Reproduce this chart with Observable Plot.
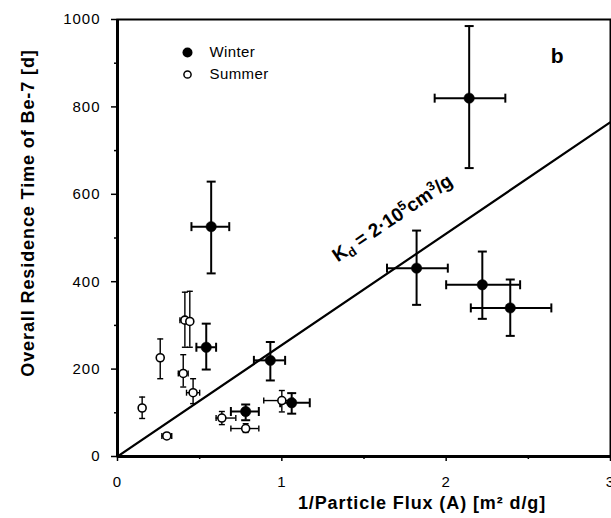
<!DOCTYPE html>
<html>
<head>
<meta charset="utf-8">
<script src="https://cdn.jsdelivr.net/npm/d3@7"></script>
<script src="https://cdn.jsdelivr.net/npm/@observablehq/plot@0.6"></script>
<style>
  body { margin: 0; background: #fff; }
  #chart svg { display: block; }
</style>
</head>
<body>
<div id="chart"></div>
<script>
// Winter campaigns: 1/particle flux (m² d/g) vs. overall Be-7 residence time (d)
const winterX    = [2.14, 0.57, 1.82, 2.22, 2.39, 0.54, 0.93, 0.78, 1.06];
const winterY    = [820,  526,  431,  393,  340,  250,  220,  103,  123];
const winterXlo  = [1.93, 0.45, 1.64, 2.00, 2.15, 0.48, 0.83, 0.69, 0.99];
const winterXhi  = [2.36, 0.68, 2.01, 2.45, 2.64, 0.60, 1.02, 0.86, 1.17];
const winterYlo  = [660,  419,  347,  315,  276,  199,  174,  83,   98];
const winterYhi  = [985,  629,  517,  469,  405,  304,  262,  119,  145];

// Summer campaigns
const summerX    = [0.15, 0.26, 0.41, 0.44, 0.40, 0.46, 0.30, 0.635, 0.78, 1.00];
const summerY    = [111,  226,  312,  309,  190,  146,  47,   88,    64,   128];
const summerXlo  = [null, null, 0.38, null, 0.37, 0.42, 0.27, 0.60,  0.69, 0.89];
const summerXhi  = [null, null, 0.44, null, 0.43, 0.50, 0.33, 0.72,  0.86, 1.07];
const summerYlo  = [87,   178,  250,  250,  159,  121,  42,   73,    55,   102];
const summerYhi  = [136,  269,  376,  378,  233,  178,  52,   103,   75,   151];

// Distribution-coefficient line, Kd = 2·10^5 cm³/g
const fitX = [0, 3];
const fitSlope = 255;
const kdText = "Kd = 2·10⁵cm³/g";
const kdAnchor = {x: 1.34, y: 444};

const xTicks = [0, 1, 2, 3];
const xMinor = [0.5, 1.5, 2.5];
const yTicks = [0, 200, 400, 600, 800, 1000];
const yMinor = [100, 300, 500, 700, 900];

const seasons = ["Winter", "Summer"];
const xTitle = "1/Particle Flux (A) [m² d/g]";
const yTitle = "Overall Residence Time of Be-7 [d]";
const panelTag = "b";

function rows(xs, ys, xlo, xhi, ylo, yhi) {
  return xs.map((x, i) => ({x, y: ys[i], xlo: xlo[i], xhi: xhi[i], ylo: ylo[i], yhi: yhi[i]}));
}
const winter = rows(winterX, winterY, winterXlo, winterXhi, winterYlo, winterYhi);
const summer = rows(summerX, summerY, summerXlo, summerXhi, summerYlo, summerYhi);
const fit = fitX.map(x => ({x, y: x * fitSlope}));

// short line symbols used as error-bar caps
const capH = {draw(ctx, size) { const r = Math.sqrt(size / Math.PI); ctx.moveTo(-r, 0); ctx.lineTo(r, 0); }};
const capV = {draw(ctx, size) { const r = Math.sqrt(size / Math.PI); ctx.moveTo(0, -r); ctx.lineTo(0, r); }};

function errorMarks(data, w, cap) {
  const hx = data.filter(d => d.xlo != null);
  const vCaps = data.flatMap(d => [{x: d.x, y: d.ylo}, {x: d.x, y: d.yhi}]);
  const hCaps = hx.flatMap(d => [{x: d.xlo, y: d.y}, {x: d.xhi, y: d.y}]);
  return [
    Plot.ruleX(data, {x: "x", y1: "ylo", y2: "yhi", stroke: "black", strokeWidth: w}),
    Plot.ruleY(hx, {y: "y", x1: "xlo", x2: "xhi", stroke: "black", strokeWidth: w}),
    Plot.dot(vCaps, {x: "x", y: "y", symbol: capH, r: cap, fill: "none", stroke: "black", strokeWidth: w}),
    Plot.dot(hCaps, {x: "x", y: "y", symbol: capV, r: cap, fill: "none", stroke: "black", strokeWidth: w})
  ];
}

const font = "'Liberation Sans', Arial, Helvetica, sans-serif";
const fmt = d => String(d);

const plot = Plot.plot({
  width: 611,
  height: 518,
  marginLeft: 117,
  marginRight: 1,
  marginTop: 19,
  marginBottom: 62,
  style: {fontFamily: font, fontSize: "15px", background: "white", color: "black", overflow: "visible"},
  x: {domain: [0, 3]},
  y: {domain: [0, 1000]},
  marks: [
    Plot.axisY(yTicks, {tickSize: 6, tickPadding: 11, label: null, tickFormat: fmt, fontSize: 15, strokeWidth: 1.5}),
    Plot.axisY(yMinor, {tickSize: 3, tickFormat: () => "", label: null, strokeWidth: 1.5}),
    Plot.axisX(xTicks, {tickSize: 5, tickPadding: 15, label: null, tickFormat: fmt, fontSize: 15, strokeWidth: 1.5}),
    Plot.axisX(xMinor, {tickSize: 3, tickFormat: () => "", label: null, strokeWidth: 1.5}),
    Plot.frame({stroke: "black", strokeWidth: 2}),
    Plot.ruleX([0], {stroke: "black", strokeWidth: 3}),
    Plot.ruleY([0], {stroke: "black", strokeWidth: 3}),
    Plot.line(fit, {x: "x", y: "y", stroke: "black", strokeWidth: 2.2, clip: true}),
    ...errorMarks(summer, 1.4, 3),
    ...errorMarks(winter, 2, 4.5),
    Plot.dot(summer, {x: "x", y: "y", r: 4, fill: "white", stroke: "black", strokeWidth: 1.6}),
    Plot.dot(winter, {x: "x", y: "y", r: 5.2, fill: "black", stroke: "black", strokeWidth: 0.5}),
    Plot.text([kdText], {x: () => kdAnchor.x, y: () => kdAnchor.y, text: d => d, rotate: -34,
      textAnchor: "start", lineAnchor: "bottom", fontSize: 19, fontWeight: "bold", fill: "black"}),
    // legend
    Plot.dot([seasons[0]], {frameAnchor: "top-left", dx: 70, dy: 33, r: 5, fill: "black"}),
    Plot.dot([seasons[1]], {frameAnchor: "top-left", dx: 70, dy: 55, r: 3.6, fill: "white", stroke: "black", strokeWidth: 1.5}),
    Plot.text([seasons[0]], {frameAnchor: "top-left", dx: 92, dy: 33, text: d => d, textAnchor: "start", lineAnchor: "middle", fontSize: 15}),
    Plot.text([seasons[1]], {frameAnchor: "top-left", dx: 92, dy: 55, text: d => d, textAnchor: "start", lineAnchor: "middle", fontSize: 15}),
    Plot.text([panelTag], {frameAnchor: "top-right", dx: -47, dy: 37, text: d => d, fontSize: 21, fontWeight: "bold", lineAnchor: "middle"}),
    // axis titles
    Plot.text([xTitle], {frameAnchor: "bottom", dx: 58, dy: 47, text: d => d, fontSize: 18, fontWeight: "bold",
      textAnchor: "middle", lineAnchor: "middle"}),
    Plot.text([yTitle], {frameAnchor: "left", dx: -89, dy: -25, rotate: -90, text: d => d, fontSize: 18, fontWeight: "bold",
      textAnchor: "middle", lineAnchor: "middle"})
  ]
});

// letter spacing on tick labels, legend and titles
plot.querySelectorAll("text").forEach(t => {
  const s = t.textContent;
  if (s === xTitle || s === yTitle) t.setAttribute("letter-spacing", "0.9");
  else if (/^\d+$/.test(s)) t.setAttribute("letter-spacing", "1");
  else if (seasons.includes(s)) t.setAttribute("letter-spacing", "0.4");
});

// subscript / superscripts in the Kd label
const svgNS = "http://www.w3.org/2000/svg";
const kdNode = Array.from(plot.querySelectorAll("text")).find(t => t.textContent === kdText);
if (kdNode) {
  kdNode.textContent = "";
  const parts = [
    ["K", null, null], ["d", "-4", "13"], [" = 2·10", null, null], ["5", "7", "13"],
    ["cm", null, null], ["3", "7", "13"], ["/g", null, null]
  ];
  parts.forEach(([s, shift, size]) => {
    const ts = document.createElementNS(svgNS, "tspan");
    ts.textContent = s;
    if (shift) ts.setAttribute("baseline-shift", shift);
    if (size) ts.setAttribute("font-size", size);
    kdNode.appendChild(ts);
  });
}

document.getElementById("chart").appendChild(plot);
</script>
</body>
</html>
